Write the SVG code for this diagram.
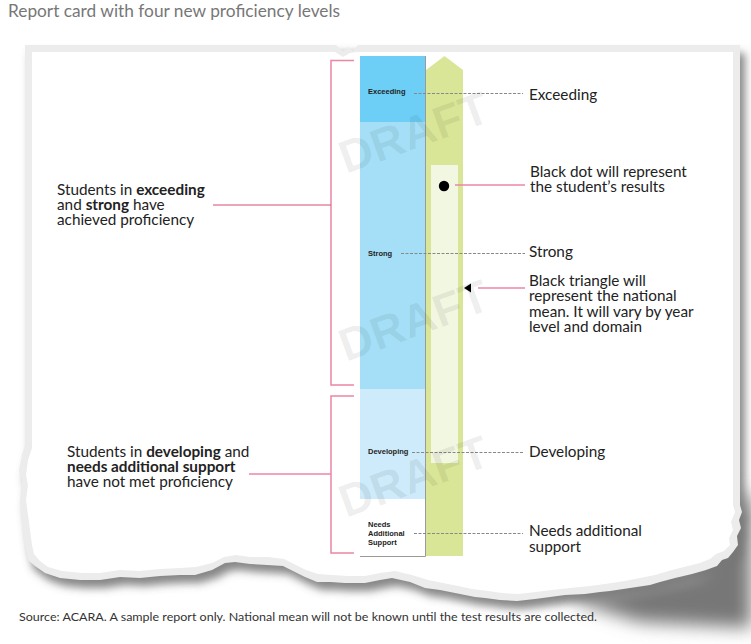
<svg xmlns="http://www.w3.org/2000/svg" width="751" height="644" viewBox="0 0 751 644">
<style>
.t{font-family:Lato,"Noto Sans","Liberation Sans",sans-serif;font-size:15.3px;fill:#222}
.b{font-weight:bold}
.s{font-family:"Liberation Sans",Arial,sans-serif;font-size:7.5px;font-weight:bold;fill:#222}
.pk{stroke:#ec86a4;stroke-width:1.5;fill:none}
.pk2{stroke:#d94f76;stroke-width:1.2;fill:none}
.ds{stroke:#888;stroke-width:1;stroke-dasharray:3,1.5;fill:none}
.dr{font-family:"Liberation Sans",Arial,sans-serif;font-size:46px;font-weight:bold;fill:#000;fill-opacity:0.065}
</style>
<defs>
<filter id="blur" x="-10%" y="-10%" width="120%" height="130%"><feGaussianBlur stdDeviation="4"/></filter>
<filter id="blur2" x="-30%" y="-30%" width="160%" height="160%"><feGaussianBlur stdDeviation="9"/></filter>
</defs>
<rect width="751" height="644" fill="#fff"/>
<text x="8" y="17" style="font-family:Lato,'Noto Sans','Liberation Sans',sans-serif;font-size:17.3px;fill:#777">Report card with four new proficiency levels</text>

<g id="paper">
<path filter="url(#blur)" fill="#555" fill-opacity="0.7" transform="translate(5,8)" d="M25,45 H740 V505 L742,512 L739,520 L741,528 L737,536 L738,545 L733,552 L728,558 L722,560 L717,566 L706,570 L692,574 L675,578 L660,582 L650,585 L630,588 L610,591 L600,592 L585,594 L565,595 L550,597 L535,599 L517,601 L500,600 L485,598 L475,597 L460,594 L440,590 L425,588 L410,582 L392,578 L380,580 L365,583 L345,583 L330,582 L317,582 L305,577 L295,572 L283,566 L267,565 L250,564 L235,562 L225,563 L212,570 L195,575 L180,575 L160,576 L140,578 L120,577 L100,580 L80,580 L60,578 L45,573 L35,566 L28,560 L26,550 L24,540 L22,520 L20,500 L22,480 L19,470 L22,455 L25,445 Z"/>
<path filter="url(#blur2)" fill="#777" d="M570,600 L700,572 L742,490 L751,500 L751,628 L640,622 Z"/>
<path fill="#ececec" d="M25,45 H336 L343,51 L348,47 L353,51 L358,45 H740 V505 L742,512 L739,520 L741,528 L737,536 L738,545 L733,552 L728,558 L722,560 L717,566 L706,570 L692,574 L675,578 L660,582 L650,585 L630,588 L610,591 L600,592 L585,594 L565,595 L550,597 L535,599 L517,601 L500,600 L485,598 L475,597 L460,594 L440,590 L425,588 L410,582 L392,578 L380,580 L365,583 L345,583 L330,582 L317,582 L305,577 L295,572 L283,566 L267,565 L250,564 L235,562 L225,563 L212,570 L195,575 L180,575 L160,576 L140,578 L120,577 L100,580 L80,580 L60,578 L45,573 L35,566 L28,560 L26,550 L24,540 L22,520 L20,500 L22,480 L19,470 L22,455 L25,445 Z"/>
<path fill="#fff" d="M32,52 H335 L343,57 L350,53 L358,52 H733 V505 L735,512 L731,522 L733,530 L729,538 L730,545 L724,551 L716,554 L710,559 L700,563 L688,566 L672,570 L655,575 L640,578 L625,581 L605,584 L590,586 L570,588 L552,590 L536,592 L518,594 L502,593 L488,591 L472,589 L458,586 L443,583 L428,580 L412,575 L395,571 L380,573 L365,576 L348,576 L332,575 L318,574 L306,570 L296,565 L284,559 L268,557 L250,557 L236,555 L224,557 L212,563 L196,567 L180,568 L160,569 L140,571 L120,570 L100,573 L82,573 L62,571 L48,567 L40,561 L34,554 L32,545 L30,530 L28,515 L26,500 L28,485 L26,475 L28,460 L32,448 Z"/>
</g>

<g id="green-arrow">
<path fill="#d9e697" d="M426,70 L444.5,56 L463,70 V556 H426 Z"/>
<rect x="431" y="165" width="27" height="298" fill="#f2f7e2"/>
</g>

<g id="level-column">
<rect x="360" y="56" width="66" height="66" fill="#6dcff6"/>
<rect x="360" y="122" width="66" height="267" fill="#a4dff7"/>
<rect x="360" y="389" width="66" height="110" fill="#cdebfb"/>
<rect x="360" y="499" width="66" height="57" fill="#fff"/>
<path d="M425.5,56 V556.5 H360" stroke="#9a9a9a" stroke-width="1" fill="none"/>
</g>

<g id="exceeding">
<text class="s" x="368" y="94">Exceeding</text>
<text class="t" x="529" y="100">Exceeding</text>
</g>
<g id="strong">
<text class="s" x="368" y="256">Strong</text>
<text class="t" x="529" y="257">Strong</text>
</g>
<g id="developing">
<text class="s" x="368" y="454">Developing</text>
<text class="t" x="529" y="457">Developing</text>
</g>
<g id="needs-support">
<text class="s" x="368" y="527">Needs<tspan x="368" dy="9">Additional</tspan><tspan x="368" dy="9">Support</tspan></text>
<text class="t" x="529" y="536">Needs additional<tspan x="529" dy="16">support</tspan></text>
</g>

<g id="black-dot">
<circle cx="444" cy="186" r="5.2" fill="#000"/>
<text class="t" x="530" y="177">Black dot will represent<tspan x="530" dy="15">the student’s results</tspan></text>
</g>
<g id="black-triangle">
<path d="M464,288 L471,283.5 V292.5 Z" fill="#000"/>
<text class="t" x="529" y="286">Black triangle will<tspan x="529" dy="15.3">represent the national</tspan><tspan x="529" dy="15.3">mean. It will vary by year</tspan><tspan x="529" dy="15.3">level and domain</tspan></text>
</g>

<g id="achieved">
<text class="t" x="57" y="195">Students in <tspan class="b">exceeding</tspan><tspan x="57" dy="15">and </tspan><tspan class="b">strong</tspan> have<tspan x="57" dy="15">achieved proficiency</tspan></text>
</g>
<g id="not-met">
<text class="t" x="67" y="457">Students in <tspan class="b">developing</tspan> and<tspan x="67" dy="15" class="b">needs additional support</tspan><tspan x="67" dy="15">have not met proficiency</tspan></text>
</g>

<g id="connectors">
<path class="pk" d="M354,60.5 H331 V385 H354"/>
<path class="pk" d="M354,396 H331 V553 H354"/>
<path class="pk2" d="M213,205 H331"/>
<path class="pk" d="M249,474 H331"/>
<path class="pk" d="M455,185 H525"/>
<path class="pk" d="M478,288 H525"/>
<path class="ds" d="M414,93.5 H523"/>
<path class="ds" d="M401,253.5 H525"/>
<path class="ds" d="M412,452.5 H523"/>
<path class="ds" d="M414,533.5 H523"/>
</g>

<g id="watermarks">
<text class="dr" x="346" y="174" transform="rotate(-20 346 174)">DRAFT</text>
<text class="dr" x="346" y="362" transform="rotate(-20 346 362)">DRAFT</text>
<text class="dr" x="346" y="518" transform="rotate(-20 346 518)">DRAFT</text>
</g>

<text x="19" y="621" textLength="578" lengthAdjust="spacingAndGlyphs" style="font-family:Lato,'Noto Sans','Liberation Sans',sans-serif;font-size:12px;fill:#333">Source: ACARA. A sample report only. National mean will not be known until the test results are collected.</text>
</svg>
